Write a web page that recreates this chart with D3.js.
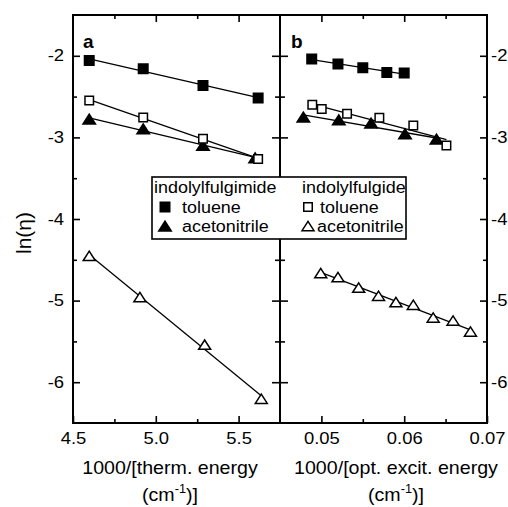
<!DOCTYPE html>
<html>
<head>
<meta charset="utf-8">
<script src="https://cdn.jsdelivr.net/npm/d3@7"></script>
<style>
  body { margin: 0; background: #fff; }
  svg { display: block; font-family: "Liberation Sans", Arial, sans-serif; }
</style>
</head>
<body>
<div id="chart"></div>
<script>
// panel a: vs 1000/[therm. energy]
var thermX = [4.598, 4.924, 5.285, 5.618];
var imideTolA = [-2.058, -2.159, -2.364, -2.518];
var ideTolA = [-2.548, -2.756, -3.017, -3.266];
var imideAcnXA = [4.598, 4.924, 5.285, 5.600];
var imideAcnA = [-2.776, -2.895, -3.099, -3.250];
var ideAcnXA = [4.598, 4.904, 5.295, 5.637];
var ideAcnA = [-4.451, -4.957, -5.540, -6.203];

// panel b: vs 1000/[opt. excit. energy]
var imideTolXB = [0.04883, 0.0520, 0.0550, 0.0579, 0.0600];
var imideTolB = [-2.040, -2.102, -2.147, -2.205, -2.212];
var ideTolXB = [0.04890, 0.05004, 0.0531, 0.0570, 0.0611, 0.06510];
var ideTolB = [-2.600, -2.653, -2.711, -2.760, -2.854, -3.099];
var imideAcnXB = [0.04782, 0.0521, 0.0560, 0.0601, 0.0639];
var imideAcnB = [-2.751, -2.784, -2.825, -2.956, -3.021];
var ideAcnXB = [0.04992, 0.0520, 0.0545, 0.0569, 0.0590, 0.0611, 0.0635, 0.0659, 0.0680];
var ideAcnB = [-4.663, -4.712, -4.840, -4.941, -5.018, -5.051, -5.207, -5.244, -5.379];

var yTicks = [-2, -3, -4, -5, -6];
var yMinor = [-2.5, -3.5, -4.5, -5.5];
var xTicksA = [4.5, 5.0, 5.5];
var xMinorA = [4.75, 5.25];
var xTicksB = [0.05, 0.06, 0.07];
var xMinorB = [0.055, 0.065];

var width = 508, height = 507;
var frL = 73, frM = 280, frR = 487, frT = 15, frB = 423;

var svg = d3.select('#chart').append('svg')
  .attr('width', width).attr('height', height);

var y = d3.scaleLinear().domain([-6.5, -1.5]).range([frB, frT]);
var xa = d3.scaleLinear().domain([4.5, 5.75]).range([frL, frM]);
var xb = d3.scaleLinear().domain([0.045, 0.07]).range([frM, frR]);

// plain hyphen for negatives, like the original
var yFmt = function(d) { return String(d); };

// stretch text horizontally, the original font runs wide
function stretch(sel, k) {
  sel.each(function() {
    var w = this.getComputedTextLength();
    this.setAttribute('textLength', w * k);
    this.setAttribute('lengthAdjust', 'spacingAndGlyphs');
  });
}

function tidy(g) {
  g.select('.domain').remove();
  g.selectAll('line').attr('stroke', '#000').attr('stroke-width', 1.6);
  g.selectAll('text').attr('fill', '#000').style('font-size', '16px');
}

// y axes
svg.append('g').attr('transform', `translate(${frL},0)`)
  .call(d3.axisLeft(y).tickValues(yTicks).tickSize(-7).tickPadding(9).tickFormat(yFmt))
  .call(tidy);
svg.append('g').attr('transform', `translate(${frL},0)`)
  .call(d3.axisLeft(y).tickValues(yMinor).tickSize(-4).tickFormat(''))
  .call(tidy);
svg.append('g').attr('transform', `translate(${frR},0)`)
  .call(d3.axisRight(y).tickValues(yTicks).tickSize(-7).tickPadding(4).tickFormat(yFmt))
  .call(tidy);
svg.append('g').attr('transform', `translate(${frR},0)`)
  .call(d3.axisRight(y).tickValues(yMinor).tickSize(-4).tickFormat(''))
  .call(tidy);
// divider ticks on both sides
[[yTicks, 8], [yMinor, 5]].forEach(function(t) {
  svg.append('g').attr('transform', `translate(${frM},0)`)
    .call(d3.axisLeft(y).tickValues(t[0]).tickSize(t[1]).tickFormat('')).call(tidy);
  svg.append('g').attr('transform', `translate(${frM},0)`)
    .call(d3.axisRight(y).tickValues(t[0]).tickSize(t[1]).tickFormat('')).call(tidy);
});

// x axes
function xAxes(x, major, minor, fmt) {
  svg.append('g').attr('transform', `translate(0,${frB})`)
    .call(d3.axisBottom(x).tickValues(major).tickSize(-7).tickPadding(10).tickFormat(d3.format(fmt)))
    .call(tidy);
  svg.append('g').attr('transform', `translate(0,${frB})`)
    .call(d3.axisBottom(x).tickValues(minor).tickSize(-4).tickFormat(''))
    .call(tidy);
  svg.append('g').attr('transform', `translate(0,${frT})`)
    .call(d3.axisTop(x).tickValues(major.filter(function(v){ return v > x.domain()[0] && v < x.domain()[1]; }))
      .tickSize(-7).tickFormat(''))
    .call(tidy);
  svg.append('g').attr('transform', `translate(0,${frT})`)
    .call(d3.axisTop(x).tickValues(minor).tickSize(-4).tickFormat(''))
    .call(tidy);
}
xAxes(xa, xTicksA, xMinorA, '.1f');
xAxes(xb, xTicksB, xMinorB, '.2f');

// frame
svg.append('rect').attr('x', frL).attr('y', frT)
  .attr('width', frR - frL).attr('height', frB - frT)
  .attr('fill', 'none').attr('stroke', '#000').attr('stroke-width', 2);
svg.append('line').attr('x1', frM).attr('x2', frM).attr('y1', frT).attr('y2', frB)
  .attr('stroke', '#000').attr('stroke-width', 2);

// markers
var triShape = {
  draw: function(ctx, size) {
    var w = size, h = size * 0.78;
    ctx.moveTo(0, -h / 2);
    ctx.lineTo(w / 2, h / 2);
    ctx.lineTo(-w / 2, h / 2);
    ctx.closePath();
  }
};
var sqShape = {
  draw: function(ctx, size) {
    ctx.rect(-size / 2, -size / 2, size, size);
  }
};
var styles = {
  imideTol: {shape: sqShape, size: 9.5, fill: '#000'},
  ideTol: {shape: sqShape, size: 8.5, fill: '#fff'},
  imideAcn: {shape: triShape, size: 12.5, fill: '#000'},
  ideAcn: {shape: triShape, size: 12, fill: '#fff'}
};

function fit(xs, ys) {
  var mx = d3.mean(xs), my = d3.mean(ys);
  var sxy = d3.sum(xs, function(v, i) { return (v - mx) * (ys[i] - my); });
  var sxx = d3.sum(xs, function(v) { return (v - mx) * (v - mx); });
  var b = sxy / sxx;
  return function(v) { return my + b * (v - mx); };
}

function series(x, xs, ys, key) {
  var f = fit(xs, ys);
  var ext = d3.extent(xs);
  svg.append('path')
    .attr('d', d3.line().x(function(d) { return x(d); }).y(function(d) { return y(f(d)); })(ext))
    .attr('stroke', '#000').attr('stroke-width', 1.3).attr('fill', 'none');
  var st = styles[key];
  svg.append('g').selectAll('path').data(xs).enter().append('path')
    .attr('transform', function(d, i) { return `translate(${x(d)},${y(ys[i])})`; })
    .attr('d', d3.symbol().type(st.shape).size(st.size))
    .attr('fill', st.fill).attr('stroke', '#000').attr('stroke-width', 1.5);
}

series(xa, imideAcnXA, imideAcnA, 'imideAcn');
series(xa, thermX, ideTolA, 'ideTol');
series(xa, thermX, imideTolA, 'imideTol');
series(xa, ideAcnXA, ideAcnA, 'ideAcn');
series(xb, imideAcnXB, imideAcnB, 'imideAcn');
series(xb, ideTolXB, ideTolB, 'ideTol');
series(xb, imideTolXB, imideTolB, 'imideTol');
series(xb, ideAcnXB, ideAcnB, 'ideAcn');

// panel letters
svg.append('text').attr('x', 83).attr('y', 48).text('a')
  .style('font-size', '19px').style('font-weight', 'bold');
svg.append('text').attr('x', 291).attr('y', 48).text('b')
  .style('font-size', '19px').style('font-weight', 'bold');

// legend
var leg = svg.append('g');
leg.append('rect').attr('x', 152).attr('y', 177).attr('width', 254).attr('height', 62)
  .attr('fill', '#fff').attr('stroke', '#000').attr('stroke-width', 1.6);
var legCols = [
  {x: 154, head: 'indolylfulgimide', keys: ['imideTol', 'imideAcn'], mx: 165, tx: 182},
  {x: 302, head: 'indolylfulgide', keys: ['ideTol', 'ideAcn'], mx: 308, tx: 320}
];
var legRows = ['toluene', 'acetonitrile'];
legCols.forEach(function(c) {
  leg.append('text').attr('class', 'lt').attr('x', c.x).attr('y', 193).text(c.head);
  c.keys.forEach(function(k, i) {
    var st = styles[k];
    var ry = 207 + i * 19;
    leg.append('path').attr('transform', `translate(${c.mx},${ry})`)
      .attr('d', d3.symbol().type(st.shape).size(st.size))
      .attr('fill', st.fill).attr('stroke', '#000').attr('stroke-width', 1.5);
    leg.append('text').attr('class', 'lt').attr('x', k === 'ideAcn' ? c.tx - 3 : c.tx)
      .attr('y', ry + 6).text(legRows[i]);
  });
});
leg.selectAll('.lt').style('font-size', '16px');

// axis titles
svg.append('text').attr('class', 'ttl')
  .attr('transform', 'translate(31,233) rotate(-90)')
  .attr('text-anchor', 'middle').style('font-size', '21px').text('ln(η)');

function xTitle(cx, line1) {
  svg.append('text').attr('class', 'ttl2').attr('x', cx).attr('y', 474)
    .attr('text-anchor', 'middle').style('font-size', '18.5px').text(line1);
  var t = svg.append('text').attr('class', 'ttl2').attr('x', cx).attr('y', 501)
    .attr('text-anchor', 'middle').style('font-size', '18.5px');
  t.append('tspan').text('(cm');
  t.append('tspan').attr('dy', -8).style('font-size', '12px').text('-1');
  t.append('tspan').attr('dy', 8).text(')]');
}
xTitle(170, '1000/[therm. energy');
xTitle(396, '1000/[opt. excit. energy');

stretch(svg.selectAll('.tick text'), 1.15);
stretch(svg.selectAll('.lt'), 1.12);
stretch(svg.selectAll('.ttl2'), 1.06);
</script>
</body>
</html>
